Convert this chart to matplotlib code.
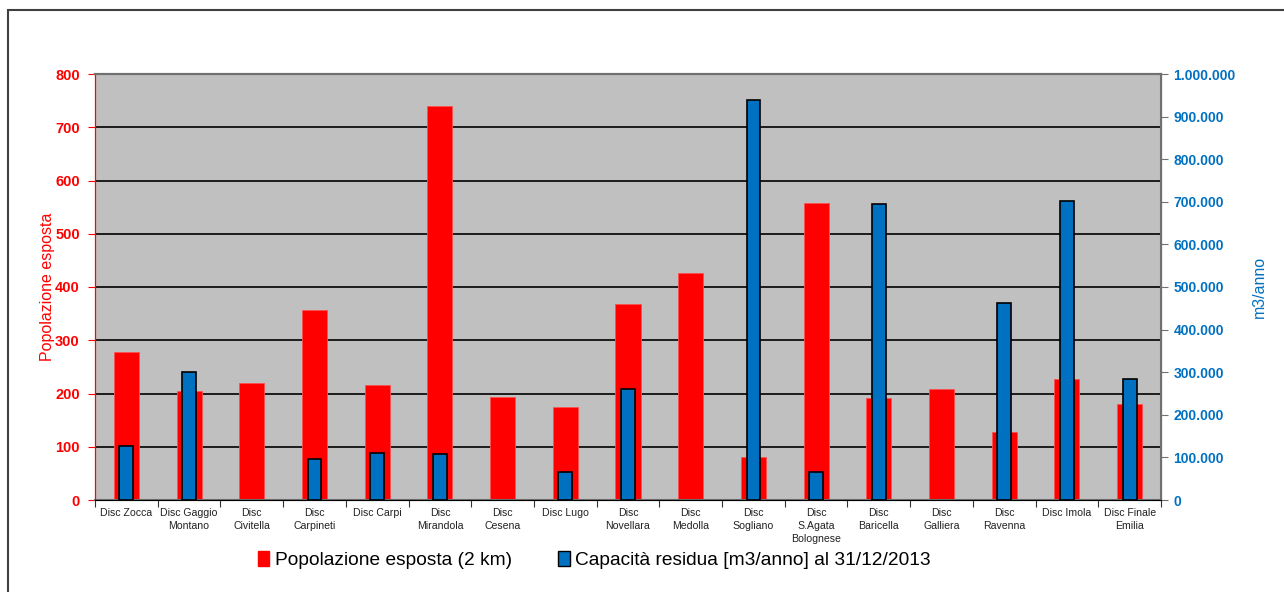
import matplotlib.pyplot as plt
import matplotlib.patches as mpatches
from matplotlib.ticker import FuncFormatter
import numpy as np

plt.rcParams['font.family'] = ['Liberation Sans', 'DejaVu Sans']

# data
sites = ["Disc Zocca", "Disc Gaggio\nMontano", "Disc\nCivitella", "Disc\nCarpineti",
         "Disc Carpi", "Disc\nMirandola", "Disc\nCesena", "Disc Lugo",
         "Disc\nNovellara", "Disc\nMedolla", "Disc\nSogliano", "Disc\nS.Agata\nBolognese",
         "Disc\nBaricella", "Disc\nGalliera", "Disc\nRavenna", "Disc Imola",
         "Disc Finale\nEmilia"]
popolazione = [278, 205, 219, 357, 216, 740, 194, 175, 369, 426, 80, 558,
               191, 208, 128, 228, 180]
capacita = [127000, 301000, 0, 96000, 110000, 107000, 0, 65000, 261000, 0,
            940000, 66000, 694000, 0, 463000, 702000, 284000]

RED = "#FF0000"
BLUE = "#0070C0"

fig = plt.figure(figsize=(12.84, 5.92), dpi=100)
ax = fig.add_axes([95 / 1284, 1 - 500 / 592, (1161 - 95) / 1284, (500 - 74) / 592])
ax2 = ax.twinx()

x = np.arange(len(sites))
ax.set_facecolor("#C0C0C0")
ax.bar(x, popolazione, width=0.40, color=RED, edgecolor="#FF5050", linewidth=0.6, zorder=2)
cap = np.array(capacita, dtype=float)
mask = cap > 0
ax2.bar(x[mask], cap[mask], width=0.22, color=BLUE, edgecolor="black", linewidth=1.2, zorder=3)

ax.set_ylim(0, 800)
ax.set_yticks(range(0, 801, 100))
ax2.set_ylim(0, 1000000)
ax2.set_yticks(range(0, 1000001, 100000))
ax2.yaxis.set_major_formatter(FuncFormatter(lambda v, p: "{:,.0f}".format(v).replace(",", ".")))
ax.set_xlim(-0.5, len(sites) - 0.5)

ax.yaxis.grid(True, color="black", linewidth=1.2)
ax.set_axisbelow(True)

# category boundaries get the tick marks, centres get the labels
ax.set_xticks(np.arange(-0.5, len(sites), 1.0))
ax.set_xticklabels([])
ax.set_xticks(x, minor=True)
ax.set_xticklabels(sites, minor=True, fontsize=7.6, color="#222222", linespacing=1.35)
ax.tick_params(axis="x", which="minor", length=0, pad=6)
ax.tick_params(axis="x", which="major", length=5, color="#333333", direction="out")

ax.tick_params(axis="y", colors=RED, labelsize=10.5, length=5, pad=6)
for t in ax.get_yticklabels():
    t.set_fontweight("bold")
ax2.tick_params(axis="y", colors="#707070", labelcolor=BLUE, labelsize=10, length=5, pad=4)
for t in ax2.get_yticklabels():
    t.set_fontweight("bold")

for s in ["top", "bottom"]:
    ax.spines[s].set_color("#707070")
    ax.spines[s].set_linewidth(1.5)
ax.spines["left"].set_color(RED)
ax2.spines["left"].set_color(RED)
ax2.spines["right"].set_color("#707070")
ax2.spines["right"].set_linewidth(1.5)
ax2.spines["top"].set_color("#707070")
ax2.spines["top"].set_linewidth(1.5)

ax.set_ylabel("Popolazione esposta", color=RED, fontsize=11.5, labelpad=0)
ax2.set_ylabel("m3/anno", color=BLUE, fontsize=11.5, labelpad=12)

handles = [mpatches.Patch(facecolor=RED, edgecolor=RED, label="Popolazione esposta (2 km)"),
           mpatches.Patch(facecolor=BLUE, edgecolor="black", label="Capacità residua [m3/anno] al 31/12/2013")]
fig.legend(handles=handles, loc="center", bbox_to_anchor=(0.463, 0.054), ncol=2, frameon=False,
           fontsize=13.8, handlelength=0.6, handleheight=0.8, handletextpad=0.3, columnspacing=2.4)

# outer chart frame
frame = mpatches.Rectangle((8 / 1284, -0.1), 1.2, 1.1 - 10 / 592, transform=fig.transFigure,
                           fill=False, edgecolor="#404040", linewidth=1.5)
fig.patches.append(frame)

fig.savefig("out.png", dpi=100)
